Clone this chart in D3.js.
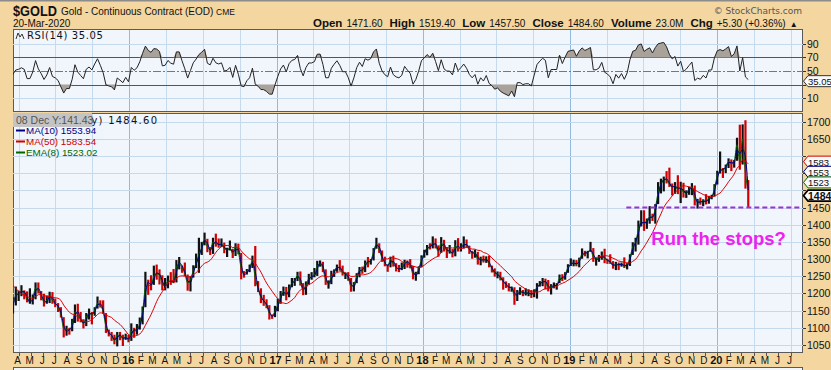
<!DOCTYPE html>
<html>
<head>
<meta charset="utf-8">
<script src="https://cdn.jsdelivr.net/npm/d3@7/dist/d3.min.js"></script>
<style>
body { margin: 0; background: #F3D6A0; }
svg { display: block; }
</style>
</head>
<body>
<div id="chart"></div>
<script>
// weekly bars for $GOLD, Fridays from 9 Jan 2015 to 20 Mar 2020 (first 10 weeks sit left of the panel, for the averages)
var firstFriday = new Date(2015, 0, 9),
    lastFriday = new Date(2020, 2, 20);

var weekClose = [
  1216,1277,1293,1278,1234,1227,1204,1213,1167,1153,
  1183,1199,1202,1207,1203,1175,1175,1189,1225,1204,1190,1169,1180,1201,1173,1168,1159,1131,1085,1095,1094,1113,1159,1134,1121,1108,1137,1145,1137,1156,1177,1162,1142,1088,1081,1076,1057,1084,1075,1065,1076,
  1061,1098,1090,1097,1116,1158,1239,1227,1222,1260,1259,1254,1219,1221,1240,1234,1232,1290,1290,1272,1252,1221,1244,1275,1294,1322,1340,1366,1328,1323,1357,1344,1341,1345,1325,1327,1334,1310,1342,1316,1257,1252,1267,1275,1304,1224,1208,1178,1177,1161,1134,1133,1152,
  1173,1196,1210,1190,1220,1235,1239,1258,1226,1201,1230,1249,1249,1254,1288,1289,1269,1228,1228,1254,1268,1281,1271,1256,1256,1242,1212,1228,1255,1274,1264,1294,1291,1297,1330,1351,1320,1297,1284,1277,1305,1281,1273,1270,1275,1296,1288,1281,1248,1257,1275,1309,
  1322,1338,1333,1352,1337,1316,1356,1330,1323,1323,1313,1347,1327,1336,1347,1338,1323,1314,1320,1291,1303,1293,1303,1279,1270,1254,1256,1241,1231,1223,1214,1219,1184,1206,1206,1200,1201,1201,1196,1207,1223,1230,1236,1234,1210,1223,1223,1223,1252,1241,1259,1283,
  1287,1290,1283,1302,1319,1316,1322,1330,1299,1299,1302,1313,1298,1295,1290,1276,1288,1281,1287,1277,1285,1311,1346,1352,1399,1413,1400,1415,1427,1419,1457,1509,1524,1537,1529,1515,1506,1516,1497,1513,1488,1495,1505,1515,1462,1468,1464,1472,1465,1481,1481,1515,
  1553,1562,1560,1572,1589,1574,1586,1649,1566,1672,1517,1485
];
var weekHigh = [
  1223,1283,1307,1300,1285,1245,1232,1220,1215,1178,
  1188,1220,1208,1224,1209,1206,1215,1197,1232,1232,1207,1199,1194,1205,1204,1185,1172,1160,1131,1106,1100,1126,1168,1170,1146,1125,1143,1156,1146,1160,1191,1180,1180,1143,1095,1088,1080,1088,1088,1080,1083,
  1080,1113,1100,1111,1130,1162,1263,1240,1253,1281,1284,1270,1253,1245,1252,1262,1271,1297,1306,1281,1290,1255,1250,1282,1316,1362,1350,1377,1359,1335,1362,1374,1360,1360,1348,1333,1354,1330,1346,1345,1318,1265,1271,1284,1310,1338,1236,1215,1196,1183,1166,1139,1164,
  1185,1207,1220,1219,1226,1245,1245,1263,1264,1230,1235,1257,1262,1274,1295,1296,1292,1270,1238,1266,1270,1284,1297,1281,1261,1262,1245,1233,1259,1277,1278,1296,1306,1300,1332,1362,1346,1325,1307,1285,1307,1310,1288,1283,1290,1298,1296,1300,1280,1263,1279,1311,
  1327,1341,1346,1366,1360,1340,1364,1356,1335,1341,1329,1355,1361,1346,1366,1357,1339,1324,1327,1321,1307,1310,1308,1310,1281,1273,1264,1263,1247,1235,1230,1220,1218,1210,1218,1210,1215,1212,1210,1212,1230,1236,1245,1243,1239,1227,1232,1230,1255,1256,1262,1285,
  1302,1298,1297,1304,1331,1324,1324,1350,1332,1303,1312,1322,1330,1301,1314,1294,1292,1290,1290,1305,1288,1314,1349,1362,1412,1442,1442,1418,1454,1432,1460,1524,1534,1540,1556,1566,1520,1524,1544,1525,1522,1500,1510,1521,1514,1475,1479,1474,1489,1484,1487,1518,
  1557,1613,1565,1575,1593,1590,1588,1653,1691,1692,1704,1530
];
var weekLow = [
  1180,1215,1275,1250,1232,1215,1198,1192,1163,1147,
  1142,1165,1178,1192,1183,1174,1170,1168,1183,1200,1180,1162,1170,1172,1170,1160,1146,1130,1072,1077,1080,1090,1114,1118,1116,1098,1105,1124,1110,1135,1156,1159,1141,1085,1075,1062,1052,1046,1064,1047,1065,
  1058,1062,1071,1080,1095,1110,1160,1196,1209,1225,1240,1226,1209,1209,1215,1225,1230,1232,1270,1260,1250,1208,1206,1246,1274,1260,1312,1340,1320,1312,1315,1336,1333,1335,1317,1306,1325,1303,1309,1314,1241,1246,1255,1262,1274,1221,1204,1172,1164,1157,1124,1126,1131,
  1148,1170,1193,1180,1189,1218,1222,1236,1223,1195,1196,1226,1240,1247,1251,1278,1262,1225,1214,1227,1248,1263,1266,1252,1242,1237,1205,1206,1230,1247,1257,1262,1276,1284,1296,1330,1318,1292,1279,1263,1276,1278,1264,1262,1268,1271,1275,1273,1241,1237,1256,1276,
  1304,1311,1328,1331,1331,1307,1318,1322,1303,1316,1305,1308,1322,1322,1331,1333,1315,1301,1304,1284,1282,1290,1289,1276,1261,1249,1244,1238,1211,1216,1206,1205,1167,1178,1196,1192,1194,1192,1187,1189,1185,1220,1221,1212,1206,1197,1215,1211,1230,1236,1240,1260,
  1280,1279,1279,1276,1301,1308,1302,1321,1292,1281,1292,1298,1288,1286,1286,1272,1268,1268,1278,1274,1270,1280,1312,1322,1342,1395,1382,1388,1403,1411,1403,1460,1491,1497,1520,1510,1485,1490,1489,1463,1479,1478,1487,1486,1456,1447,1458,1454,1459,1461,1474,1482,
  1517,1549,1536,1550,1565,1556,1566,1586,1560,1575,1505,1451
];

var priceTicks = [1050, 1100, 1150, 1200, 1250, 1300, 1350, 1400, 1450, 1500, 1550, 1600, 1650, 1700],
    rsiTicks = [10, 30, 50, 70, 90],
    monthLetters = ['J', 'F', 'M', 'A', 'M', 'J', 'J', 'A', 'S', 'O', 'N', 'D'];

var legendRows = [
    {label: 'MA(10) 1553.94', color: '#000080'},
    {label: 'MA(50) 1583.54', color: '#CC0000'},
    {label: 'EMA(8) 1523.02', color: '#006400'}
];
var priceTags = [
    {value: 1583.54, label: '1583', color: '#CC0000'},
    {value: 1553.94, label: '1553', color: '#000080'},
    {value: 1523.02, label: '1523', color: '#006400'},
    {value: 1484.60, label: '1484.6', color: '#000000', bold: true}
];
var lastRsi = 35.05,
    supportLevel = 1450,
    supportFrom = new Date(2019, 4, 20),
    noteText = 'Run the stops?',
    noteDate = new Date(2019, 6, 21),
    noteLevel = 1341;

var W = 831, H = 370,
    left = 13, right = 803,
    rsiTop = 29, rsiBottom = 112,
    mainTop = 113, mainBottom = 353,
    SANS = 'Liberation Sans, Arial, sans-serif',
    VERD = 'DejaVu Sans, Verdana, sans-serif';

var dates = d3.timeFriday.range(firstFriday, d3.timeDay.offset(lastFriday, 1)),
    bars = dates.map(function(d, i) {
        return {date: d3.timeDay.offset(d, -2), close: weekClose[i], high: weekHigh[i], low: weekLow[i],
                up: i === 0 || weekClose[i] >= weekClose[i - 1]};
    });

var x = d3.scaleTime().domain([new Date(2015, 2, 18), new Date(2020, 7, 1)]).range([left, right]),
    y = d3.scaleLinear().domain([1050, 1700]).range([345, 121.6]),
    ry = d3.scaleLinear().domain([30, 70]).range([84.6, 57.4]);

function sma(vals, n) {
    return vals.map(function(v, i) {
        return i < n - 1 ? null : d3.mean(vals.slice(i - n + 1, i + 1));
    });
}
function ema(vals, a) {
    var out = [], prev = vals[0];
    vals.forEach(function(v) { prev = a * v + (1 - a) * prev; out.push(prev); });
    return out;
}
function rsi(vals, n) {
    var out = [null], ag = 0, al = 0;
    for (var i = 1; i < vals.length; i++) {
        var ch = vals[i] - vals[i - 1], g = Math.max(ch, 0), l = Math.max(-ch, 0);
        if (i <= n) {
            ag += g / n; al += l / n;
            if (i < n) { out.push(null); continue; }
        } else {
            ag = (ag * (n - 1) + g) / n;
            al = (al * (n - 1) + l) / n;
        }
        out.push(al === 0 ? 100 : 100 - 100 / (1 + ag / al));
    }
    return out;
}

var ma50 = sma(weekClose, 10),
    ma10 = sma(weekClose, 2),
    ema8 = ema(weekClose, 0.75),
    rsiVals = rsi(weekClose, 6);

var svg = d3.select('#chart').append('svg').attr('width', W).attr('height', H);

svg.append('rect').attr('width', W).attr('height', H).attr('fill', '#F3D6A0');
svg.append('line').attr('x1', 0).attr('x2', W).attr('y1', 0.5).attr('y2', 0.5)
    .attr('stroke', '#8c8c8c').attr('stroke-width', 2);

var defs = svg.append('defs');
[['clipRsi', rsiTop, rsiBottom], ['clipMain', mainTop, mainBottom]].forEach(function(c) {
    defs.append('clipPath').attr('id', c[0]).append('rect')
        .attr('x', left).attr('y', c[1]).attr('width', right - left).attr('height', c[2] - c[1]);
});

// panels
[[rsiTop, rsiBottom], [mainTop, mainBottom], [367, 380]].forEach(function(p) {
    svg.append('rect').attr('x', left + 0.5).attr('y', p[0] + 0.5)
        .attr('width', right - left - 1).attr('height', p[1] - p[0] - 1)
        .attr('fill', '#F1F5FC').attr('stroke', '#5a5a5a');
});

var quarters = d3.timeMonth.every(3).range(x.domain()[0], x.domain()[1]);
function vGrid(g, top, bottom) {
    g.selectAll('line.vg').data(quarters).join('line').attr('class', 'vg')
        .attr('x1', function(d) { return Math.round(x(d)) + 0.5; })
        .attr('x2', function(d) { return Math.round(x(d)) + 0.5; })
        .attr('y1', top + 1).attr('y2', bottom - 1)
        .attr('stroke', function(d) { return d.getMonth() === 0 ? '#93BBE0' : '#C6DAEE'; });
}

// ---- RSI panel
var gr = svg.append('g').attr('clip-path', 'url(#clipRsi)');
vGrid(gr, rsiTop, rsiBottom);
gr.selectAll('line.hg').data([10, 90]).join('line').attr('class', 'hg')
    .attr('x1', left).attr('x2', right)
    .attr('y1', function(d) { return Math.round(ry(d)) + 0.5; })
    .attr('y2', function(d) { return Math.round(ry(d)) + 0.5; })
    .attr('stroke', '#C6DAEE');
gr.selectAll('line.lvl').data([70, 30]).join('line').attr('class', 'lvl')
    .attr('x1', left).attr('x2', right)
    .attr('y1', function(d) { return Math.round(ry(d)) + 0.5; })
    .attr('y2', function(d) { return Math.round(ry(d)) + 0.5; })
    .attr('stroke', '#555');
gr.append('line').attr('x1', left).attr('x2', right)
    .attr('y1', Math.round(ry(50)) + 0.5).attr('y2', Math.round(ry(50)) + 0.5)
    .attr('stroke', '#777').attr('stroke-dasharray', '8,2,2,2');

var rsiData = bars.map(function(b, i) { return {date: b.date, v: rsiVals[i]}; })
    .filter(function(d) { return d.v !== null; });

gr.append('path').datum(rsiData)
    .attr('d', d3.area().x(function(d) { return x(d.date); })
        .y0(ry(70)).y1(function(d) { return ry(Math.max(d.v, 70)); }))
    .attr('fill', '#A8A29A');
gr.append('path').datum(rsiData)
    .attr('d', d3.area().x(function(d) { return x(d.date); })
        .y0(ry(30)).y1(function(d) { return ry(Math.min(d.v, 30)); }))
    .attr('fill', '#A8A29A');
gr.append('path').datum(rsiData)
    .attr('d', d3.line().x(function(d) { return x(d.date); }).y(function(d) { return ry(d.v); }))
    .attr('fill', 'none').attr('stroke', '#222').attr('stroke-width', 1);

// RSI label with tiny icon
svg.append('path').attr('d', 'M16,39 L18,33 L20,37 L22,34 L24,39')
    .attr('fill', 'none').attr('stroke', '#333').attr('stroke-width', 1);
svg.append('text').attr('x', 27).attr('y', 39).attr('font-family', VERD).attr('font-size', 10)
    .attr('fill', '#111').attr('letter-spacing', 0.6).text('RSI(14) 35.05');

// ---- main panel
var gm = svg.append('g').attr('clip-path', 'url(#clipMain)');
vGrid(gm, mainTop, mainBottom);
gm.selectAll('line.hg').data(priceTicks).join('line').attr('class', 'hg')
    .attr('x1', left).attr('x2', right)
    .attr('y1', function(d) { return Math.round(y(d)) + 0.5; })
    .attr('y2', function(d) { return Math.round(y(d)) + 0.5; })
    .attr('stroke', '#C6DAEE');

gm.selectAll('line.bar').data(bars).join('line').attr('class', 'bar')
    .attr('x1', function(d) { return x(d.date); })
    .attr('x2', function(d) { return x(d.date); })
    .attr('y1', function(d) { return y(d.high); })
    .attr('y2', function(d) { return y(d.low); })
    .attr('stroke', function(d) { return d.up ? '#111' : '#D00000'; })
    .attr('stroke-width', 2.2);

function avgLine(vals, color, width) {
    var pts = bars.map(function(b, i) { return {date: b.date, v: vals[i]}; })
        .filter(function(d) { return d.v !== null; });
    gm.append('path').datum(pts)
        .attr('d', d3.line().x(function(d) { return x(d.date); }).y(function(d) { return y(d.v); })
            .curve(d3.curveMonotoneX))
        .attr('fill', 'none').attr('stroke', color).attr('stroke-width', width);
}
avgLine(ema8, '#006400', 1);
avgLine(ma10, '#000080', 1);
avgLine(ma50, '#DD0000', 1);

// support line and note
gm.append('line')
    .attr('x1', x(supportFrom)).attr('x2', right - 3)
    .attr('y1', y(supportLevel)).attr('y2', y(supportLevel))
    .attr('stroke', '#9B30D6').attr('stroke-width', 2).attr('stroke-dasharray', '5,3');
svg.append('text').attr('x', x(noteDate)).attr('y', y(noteLevel))
    .attr('font-family', SANS).attr('font-weight', 'bold').attr('font-size', 18.5)
    .attr('fill', '#EE22EE').text(noteText);

// legend (first row sits under a grey hover box, as in the snapshot)
svg.append('text').attr('x', 16).attr('y', 124).attr('font-family', VERD).attr('font-size', 10)
    .attr('textLength', 141).attr('lengthAdjust', 'spacing')
    .attr('fill', '#111').text('$GOLD (Daily) 1484.60');
var tip = svg.append('g');
tip.append('rect').attr('x', 13).attr('y', 113).attr('width', 79).attr('height', 14)
    .attr('fill', '#C4C4C4');
tip.append('text').attr('x', 16).attr('y', 124).attr('font-family', SANS).attr('font-size', 10.5)
    .attr('fill', '#555').text('08 Dec Y:141.43');
legendRows.forEach(function(r, i) {
    var yy = 134 + i * 11;
    svg.append('line').attr('x1', 16).attr('x2', 25).attr('y1', yy - 3.5).attr('y2', yy - 3.5)
        .attr('stroke', r.color).attr('stroke-width', 2);
    svg.append('text').attr('x', 26).attr('y', yy).attr('font-family', SANS).attr('font-size', 9.8)
        .attr('fill', r.color).text(r.label);
});

// right axes; labels hidden under a value tag are skipped
function rightAxis(scale, ticks, tagYs) {
    ticks.forEach(function(t) {
        var yy = Math.round(scale(t)) + 0.5,
            covered = tagYs.some(function(ty) { return Math.abs(ty - yy) < 8; });
        svg.append('line').attr('x1', right).attr('x2', right + 3).attr('y1', yy).attr('y2', yy)
            .attr('stroke', '#333');
        if (covered) return;
        svg.append('text').attr('x', right + 4).attr('y', yy + 3.5)
            .attr('font-family', SANS).attr('font-size', 10.5).attr('fill', '#111').text(t);
    });
}
rightAxis(ry, rsiTicks, [ry(lastRsi)]);
rightAxis(y, priceTicks, priceTags.map(function(t) { return y(t.value); }));

function tag(yy, label, color, bold) {
    svg.append('path')
        .attr('d', 'M' + (right + 0.5) + ',' + yy + ' L' + (right + 5) + ',' + (yy - 5.5) +
             ' L' + (W + 2) + ',' + (yy - 5.5) + ' L' + (W + 2) + ',' + (yy + 5.5) +
             ' L' + (right + 5) + ',' + (yy + 5.5) + ' Z')
        .attr('fill', '#FAFAFA').attr('stroke', color).attr('stroke-width', bold ? 1.6 : 1);
    svg.append('text').attr('x', right + 5).attr('y', yy + 4)
        .attr('font-family', SANS).attr('font-size', bold ? 10.5 : 9.5)
        .attr('font-weight', bold ? 'bold' : 'normal').attr('fill', '#111').text(label);
}
tag(ry(lastRsi), '35.05', '#333', false);
priceTags.forEach(function(t) { tag(y(t.value), t.label, t.color, t.bold); });

// month axis
var months = d3.timeMonth.range(new Date(2015, 3, 1), x.domain()[1]);
svg.selectAll('line.mt').data(months).join('line').attr('class', 'mt')
    .attr('x1', function(d) { return Math.round(x(d)) + 0.5; })
    .attr('x2', function(d) { return Math.round(x(d)) + 0.5; })
    .attr('y1', mainBottom).attr('y2', mainBottom + 3).attr('stroke', '#555');
svg.selectAll('text.ml').data(months).join('text').attr('class', 'ml')
    .attr('x', function(d) { return x(d) - 1; })
    .attr('y', 364)
    .attr('text-anchor', 'middle')
    .attr('font-family', SANS)
    .attr('font-size', function(d) { return d.getMonth() === 0 ? 11 : 10; })
    .attr('font-weight', function(d) { return d.getMonth() === 0 ? 'bold' : 'normal'; })
    .attr('fill', '#111')
    .text(function(d) { return d.getMonth() === 0 ? d3.timeFormat('%y')(d) : monthLetters[d.getMonth()]; });

// header
svg.append('text').attr('x', 13).attr('y', 16).attr('font-family', SANS).attr('font-weight', 'bold')
    .attr('font-size', 14).attr('textLength', 44).attr('lengthAdjust', 'spacingAndGlyphs')
    .attr('fill', '#111').text('$GOLD');
var sub = svg.append('text').attr('x', 61).attr('y', 15).attr('font-family', SANS).attr('fill', '#111');
sub.append('tspan').attr('font-size', 10).text('Gold - Continuous Contract (EOD) ');
sub.append('tspan').attr('font-size', 8.5).text('CME');
svg.append('text').attr('x', 13).attr('y', 27).attr('font-family', SANS).attr('font-size', 10)
    .attr('fill', '#111').text('20-Mar-2020');
svg.append('text').attr('x', 802).attr('y', 14).attr('text-anchor', 'end').attr('font-family', VERD)
    .attr('font-size', 9).attr('fill', '#555').text('\u00A9 StockCharts.com');

var quote = [['Open', '1471.60'], ['High', '1519.40'], ['Low', '1457.50'], ['Close', '1484.60'],
             ['Volume', '23.0M'], ['Chg', '+5.30 (+0.36%)']];
var qt = svg.append('text').attr('x', 313).attr('y', 27).attr('font-family', SANS).attr('fill', '#111');
quote.forEach(function(q, i) {
    qt.append('tspan').attr('font-weight', 'bold').attr('font-size', 11.5).attr('dx', i ? 7 : 0).text(q[0]);
    qt.append('tspan').attr('font-size', 10).attr('dx', 4).text(q[1]);
});
qt.append('tspan').attr('font-size', 8).attr('dx', 4).text('\u25B2');
</script>
</body>
</html>
